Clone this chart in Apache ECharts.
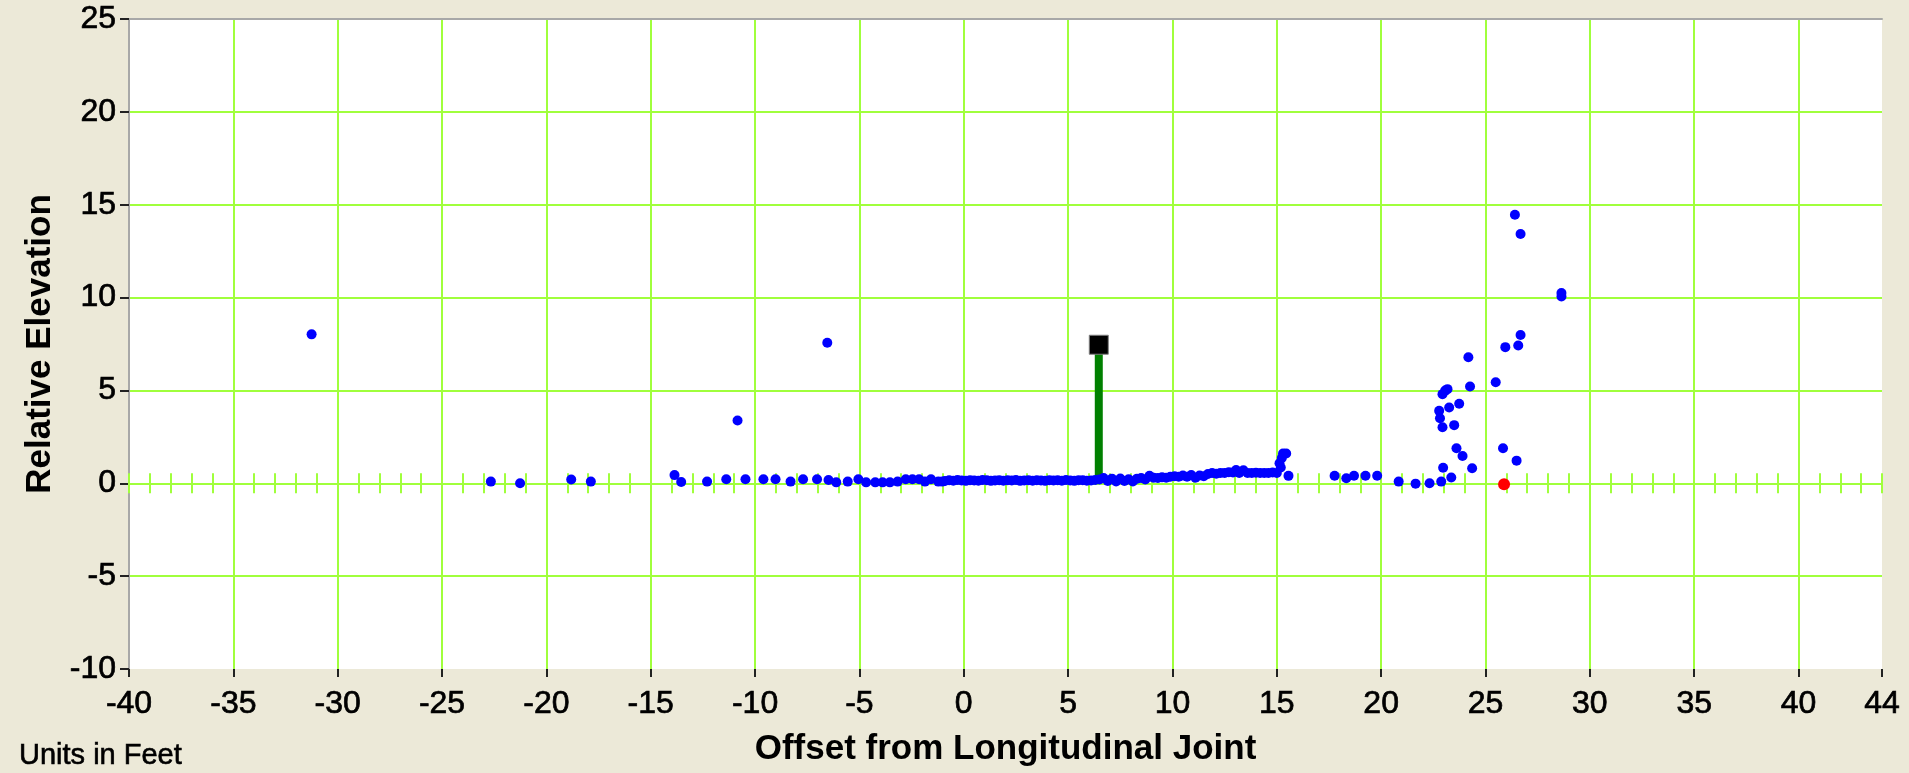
<!DOCTYPE html>
<html>
<head>
<meta charset="utf-8">
<script src="https://cdn.jsdelivr.net/npm/echarts@6/dist/echarts.min.js"></script>
<style>
html,body{margin:0;padding:0;background:#ECE9D8;}
#chart{width:1909px;height:773px;}
</style>
</head>
<body>
<div id="chart"></div>
<script>
// ---- data (feet) ----
const xTitle = 'Offset from Longitudinal Joint';
const yTitle = 'Relative Elevation';
const unitsNote = 'Units in Feet';
const xRange = [-40, 44];
const yRange = [-10, 25];

const outlierPoints = [[-31.25, 8.02], [-10.84, 3.38], [-6.54, 7.57]];

const leftBaseline = [
  [-22.66, 0.09], [-21.26, 0.0], [-18.81, 0.2], [-17.87, 0.09], [-13.86, 0.44], [-13.54, 0.07],
  [-12.3, 0.09], [-11.38, 0.22], [-10.46, 0.22], [-9.6, 0.22], [-9.02, 0.22], [-8.3, 0.09],
  [-7.7, 0.22], [-7.03, 0.22], [-6.48, 0.18], [-6.11, 0.05], [-5.56, 0.09], [-5.05, 0.22],
  [-4.68, 0.05], [-4.24, 0.05], [-3.89, 0.05], [-3.54, 0.05], [-3.17, 0.09], [-2.78, 0.22],
  [-2.46, 0.22], [-2.14, 0.22], [-1.86, 0.09], [-1.57, 0.22], [-1.22, 0.09], [-1.03, 0.09]
];

const centerBand = [
  [-0.9, 0.12], [-0.7, 0.16], [-0.5, 0.14], [-0.3, 0.18], [-0.1, 0.15], [0.1, 0.13], [0.3, 0.17],
  [0.5, 0.15], [0.7, 0.14], [0.9, 0.18], [1.1, 0.16], [1.3, 0.13], [1.5, 0.15], [1.7, 0.17],
  [1.9, 0.14], [2.1, 0.16], [2.3, 0.15], [2.5, 0.18], [2.7, 0.13], [2.9, 0.15], [3.1, 0.17],
  [3.3, 0.14], [3.5, 0.16], [3.7, 0.15], [3.9, 0.13], [4.1, 0.17], [4.3, 0.15], [4.5, 0.16],
  [4.7, 0.14], [4.9, 0.18], [5.1, 0.15], [5.3, 0.13], [5.5, 0.16], [5.7, 0.17], [5.9, 0.14],
  [6.1, 0.15], [6.3, 0.18], [6.5, 0.2]
];

const rightBand = [
  [6.7, 0.28], [6.9, 0.12], [7.1, 0.25], [7.3, 0.1], [7.5, 0.26], [7.7, 0.12], [7.9, 0.22],
  [8.1, 0.1], [8.3, 0.25], [8.5, 0.28], [8.7, 0.2], [8.9, 0.4], [9.1, 0.3], [9.3, 0.28],
  [9.5, 0.32], [9.7, 0.3], [9.9, 0.35], [10.1, 0.38], [10.3, 0.35], [10.5, 0.42], [10.7, 0.35],
  [10.9, 0.45], [11.1, 0.3], [11.3, 0.42], [11.5, 0.38], [11.7, 0.5], [11.9, 0.55], [12.1, 0.52],
  [12.3, 0.56], [12.5, 0.55], [12.7, 0.6], [12.9, 0.58], [13.05, 0.72], [13.2, 0.55], [13.4, 0.7],
  [13.6, 0.56], [13.8, 0.55], [14.0, 0.57], [14.2, 0.55], [14.4, 0.56], [14.6, 0.55], [14.8, 0.58],
  [15.0, 0.56], [15.13, 1.08], [15.19, 0.85], [15.24, 1.36], [15.3, 1.6], [15.45, 1.6], [15.56, 0.4]
];

const rightCluster = [
  [17.77, 0.41], [18.33, 0.27], [18.7, 0.41], [19.25, 0.41], [19.81, 0.41], [20.84, 0.09],
  [21.65, -0.02], [22.32, 0.0], [22.88, 0.09], [23.36, 0.31], [22.97, 0.84], [24.36, 0.81],
  [23.9, 1.47], [23.61, 1.89], [25.84, 1.89], [26.49, 1.22], [22.94, 3.02], [23.5, 3.13],
  [22.82, 3.5], [22.78, 3.9], [23.26, 4.08], [23.74, 4.28], [22.94, 4.8], [23.07, 4.99],
  [23.18, 5.07], [24.26, 5.21], [25.49, 5.44], [24.18, 6.79], [25.95, 7.33], [26.57, 7.42],
  [26.68, 7.98], [28.64, 10.06], [28.64, 10.24], [26.68, 13.42], [26.41, 14.46]
];

const jointStem = [[6.47, 0.36], [6.47, 7.46]];
const jointMarker = [[6.47, 7.46]];
const redPoint = [[25.89, -0.05]];

// ---- chart ----
const GREEN = '#A0FF3C';
const FONT = '"Liberation Sans", Arial, sans-serif';
const allBlue = [].concat(outlierPoints, leftBaseline, centerBand, rightBand, rightCluster);

const tickLabelStyle = {
  fontSize: 32, color: '#000', fontFamily: FONT,
  textBorderColor: '#000', textBorderWidth: 0.7
};

const chart = echarts.init(document.getElementById('chart'), null, {renderer: 'canvas'});
chart.setOption({
  animation: false,
  backgroundColor: '#ECE9D8',
  textStyle: {fontFamily: FONT},
  title: {
    text: unitsNote, left: 14, top: 736,
    textStyle: {fontFamily: FONT, fontSize: 29, fontWeight: 'normal', color: '#000',
      textBorderColor: '#000', textBorderWidth: 0.6}
  },
  grid: {
    left: 129, top: 19, width: 1753, height: 650,
    show: true, backgroundColor: '#FFFFFF', borderWidth: 0,
    containLabel: false, outerBoundsMode: 'none'
  },
  xAxis: [
    { // bottom labelled axis
      type: 'value', min: xRange[0], max: xRange[1], interval: 5, position: 'bottom',
      name: xTitle, nameLocation: 'middle', nameGap: 63, nameMoveOverlap: false,
      nameTextStyle: {fontFamily: FONT, fontSize: 35, fontWeight: 'bold', color: '#000'},
      axisLine: {show: false, onZero: false},
      axisTick: {show: true, inside: false, length: 8, lineStyle: {color: '#222', width: 2}},
      axisLabel: Object.assign({show: true, margin: 19}, tickLabelStyle),
      splitLine: {show: true, showMinLine: false, showMaxLine: false, lineStyle: {color: GREEN, width: 2}}
    },
    { // top border
      type: 'value', min: xRange[0], max: xRange[1], interval: 5, position: 'top',
      axisLine: {show: true, onZero: false, lineStyle: {color: '#A8A8A8', width: 2}},
      axisTick: {show: false}, axisLabel: {show: false}, splitLine: {show: false}
    },
    { // zero line with upward minor ticks
      type: 'value', min: xRange[0], max: xRange[1], interval: 1, position: 'bottom',
      axisLine: {show: true, onZero: true, onZeroAxisIndex: 0, lineStyle: {color: GREEN, width: 2}},
      axisTick: {show: true, inside: true, length: 10, lineStyle: {color: GREEN, width: 2}},
      axisLabel: {show: false}, splitLine: {show: false}
    },
    { // zero line with downward minor ticks
      type: 'value', min: xRange[0], max: xRange[1], interval: 1, position: 'bottom',
      axisLine: {show: true, onZero: true, onZeroAxisIndex: 0, lineStyle: {color: GREEN, width: 2}},
      axisTick: {show: true, inside: false, length: 10, lineStyle: {color: GREEN, width: 2}},
      axisLabel: {show: false}, splitLine: {show: false}
    }
  ],
  yAxis: [{
    type: 'value', min: yRange[0], max: yRange[1], interval: 5, position: 'left',
    name: yTitle, nameLocation: 'middle', nameGap: 71, nameMoveOverlap: false,
    nameTextStyle: {fontFamily: FONT, fontSize: 35, fontWeight: 'bold', color: '#000'},
    axisLine: {show: true, onZero: false, lineStyle: {color: '#A8A8A8', width: 2}},
    axisTick: {show: true, inside: false, length: 9, lineStyle: {color: '#222', width: 2}},
    axisLabel: Object.assign({show: true, margin: 13}, tickLabelStyle),
    splitLine: {show: true, showMinLine: false, showMaxLine: false, lineStyle: {color: GREEN, width: 2}}
  }],
  series: [
    {
      type: 'line', xAxisIndex: 0, yAxisIndex: 0, data: jointStem, symbol: 'none',
      lineStyle: {color: '#008000', width: 8, opacity: 1}, z: 3
    },
    {
      type: 'scatter', xAxisIndex: 0, yAxisIndex: 0, data: allBlue,
      symbol: 'circle', symbolSize: 10, itemStyle: {color: '#0000FF', opacity: 1}, z: 4
    },
    {
      type: 'scatter', xAxisIndex: 0, yAxisIndex: 0, data: jointMarker,
      symbol: 'rect', symbolSize: 19,
      itemStyle: {color: '#000000', borderColor: '#808080', borderWidth: 1, opacity: 1}, z: 5
    },
    {
      type: 'scatter', xAxisIndex: 0, yAxisIndex: 0, data: redPoint,
      symbol: 'circle', symbolSize: 12, itemStyle: {color: '#FF0000', opacity: 1}, z: 5
    }
  ]
});
</script>
</body>
</html>
